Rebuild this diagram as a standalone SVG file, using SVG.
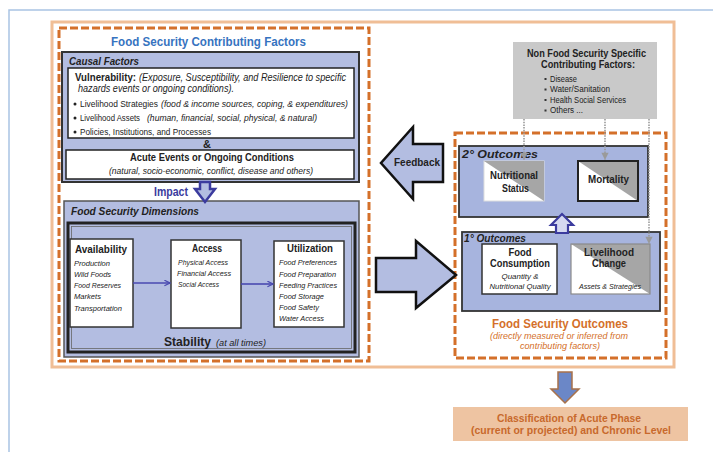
<svg xmlns="http://www.w3.org/2000/svg" width="713" height="452" viewBox="0 0 713 452">
<defs>
<style>
text{font-family:"Liberation Sans","Noto Sans",Arial,sans-serif;fill:#222;}
.b{font-weight:bold;}
.i{font-style:italic;}
.bi{font-weight:bold;font-style:italic;}
.lav{fill:#B3BDE1;stroke:#333;stroke-width:2;}
.lav2{fill:#A7B4DE;stroke:#333;stroke-width:1.8;}
.wbox{fill:#fff;stroke:#222;stroke-width:1.5;}
.dash{fill:none;stroke:#D4702A;stroke-width:3;stroke-dasharray:8 3;}
.tri{fill:#A6A6A6;}
.dot{fill:none;stroke:#9A9A9A;stroke-width:1.6;stroke-dasharray:1.5 1.2;}
.flow{stroke:#4A4AB0;stroke-width:1.6;fill:none;}
.orange{fill:#D4702A;}
</style>
<marker id="ah" viewBox="0 0 10 10" refX="9" refY="5" markerWidth="7" markerHeight="7" orient="auto" markerUnits="userSpaceOnUse">
<path d="M1,1 L9,5 L1,9" fill="none" stroke="#4A4AB0" stroke-width="1.8"/>
</marker>
<marker id="gh" viewBox="0 0 10 10" refX="9" refY="5" markerWidth="9" markerHeight="9" orient="auto" markerUnits="userSpaceOnUse">
<path d="M1,1 L9,5 L1,9 Z" fill="#9A9A9A"/>
</marker>
</defs>
<rect x="0" y="0" width="713" height="452" fill="#fff"/>
<g id="frames">
<path d="M9,452 V10 H713" fill="none" stroke="#A9C3E3" stroke-width="1.5"/>
<rect x="52" y="22" width="622" height="345" fill="#fff" stroke="#F0BE96" stroke-width="3"/>
<rect class="dash" x="59" y="28" width="310" height="333"/>
<rect class="dash" x="455" y="133" width="211" height="225"/>
</g>
<g id="title">
<text class="b" x="111" y="46" font-size="13" textLength="195" lengthAdjust="spacingAndGlyphs" style="fill:#3673C0">Food Security Contributing Factors</text>
</g>
<g id="causal-factors">
<rect class="lav" x="62" y="52" width="297" height="130"/>
<text class="bi" x="69" y="65" font-size="11.5" textLength="70" lengthAdjust="spacingAndGlyphs">Causal Factors</text>
<rect class="wbox" x="68" y="68" width="286" height="70"/>
<text y="81" font-size="10"><tspan class="b" x="75" font-size="10.5" textLength="61" lengthAdjust="spacingAndGlyphs">Vulnerability:</tspan><tspan class="i" x="139" textLength="207" lengthAdjust="spacingAndGlyphs">(Exposure, Susceptibility, and Resilience  to specific</tspan></text>
<text class="i" x="78" y="92" font-size="10" textLength="156" lengthAdjust="spacingAndGlyphs">hazards events or ongoing conditions).</text>
<circle cx="75" cy="104" r="1.5" fill="#222"/>
<text y="107" font-size="9.5"><tspan x="80" textLength="78" lengthAdjust="spacingAndGlyphs">Livelihood Strategies</tspan><tspan class="i" x="161" textLength="187" lengthAdjust="spacingAndGlyphs">(food &amp; income sources, coping, &amp; expenditures)</tspan></text>
<circle cx="75" cy="118" r="1.5" fill="#222"/>
<text x="80" y="121" font-size="9.5" textLength="60" lengthAdjust="spacingAndGlyphs">Livelihood Assets</text>
<text class="i" x="147" y="121" font-size="9.5" textLength="170" lengthAdjust="spacingAndGlyphs">(human, financial, social, physical, &amp; natural)</text>
<circle cx="75" cy="132" r="1.5" fill="#222"/>
<text x="80" y="135" font-size="9.5" textLength="131" lengthAdjust="spacingAndGlyphs">Policies, Institutions, and Processes</text>
<text class="b" x="207" y="148" font-size="11" text-anchor="middle">&amp;</text>
<rect class="wbox" x="66" y="150" width="288" height="29"/>
<text class="b" x="130" y="161" font-size="10.5" textLength="164" lengthAdjust="spacingAndGlyphs">Acute Events or Ongoing Conditions</text>
<text class="i" x="109" y="174" font-size="9.5" textLength="204" lengthAdjust="spacingAndGlyphs">(natural, socio-economic, conflict, disease and others)</text>
</g>
<g id="impact">
<text class="b" x="154" y="196" font-size="12" textLength="34" lengthAdjust="spacingAndGlyphs" style="fill:#3B3B9E">Impact</text>
</g>
<g id="food-security-dimensions">
<rect class="lav" x="64" y="201" width="295" height="156" style="stroke:#555;stroke-width:1.5"/>
<text class="bi" x="71" y="215" font-size="11.5" textLength="128" lengthAdjust="spacingAndGlyphs">Food Security Dimensions</text>
<rect x="68" y="223" width="287" height="129" fill="none" stroke="#222" stroke-width="3"/>
<rect x="71.5" y="226.5" width="280" height="122" fill="none" stroke="#666" stroke-width="0.8"/>
<text y="346"><tspan class="b" x="164" font-size="13" textLength="47" lengthAdjust="spacingAndGlyphs">Stability</tspan><tspan class="i" x="216" font-size="9.5" textLength="50" lengthAdjust="spacingAndGlyphs">(at all times)</tspan></text>
</g>
<g id="availability">
<rect class="wbox" x="70" y="239" width="63" height="88" style="stroke:#333"/>
<text class="b" x="75" y="253" font-size="11" textLength="52" lengthAdjust="spacingAndGlyphs">Availability</text>
<text class="i" x="74" y="266" font-size="8" textLength="36" lengthAdjust="spacingAndGlyphs">Production</text>
<text class="i" x="74" y="277" font-size="8" textLength="37" lengthAdjust="spacingAndGlyphs">Wild Foods</text>
<text class="i" x="74" y="288" font-size="8" textLength="47" lengthAdjust="spacingAndGlyphs">Food Reserves</text>
<text class="i" x="74" y="299" font-size="8" textLength="27" lengthAdjust="spacingAndGlyphs">Markets</text>
<text class="i" x="74" y="310.5" font-size="8" textLength="48" lengthAdjust="spacingAndGlyphs">Transportation</text>
</g>
<g id="access">
<rect class="wbox" x="171" y="240" width="70" height="88" style="stroke:#333"/>
<text class="b" x="192" y="252" font-size="11" textLength="30" lengthAdjust="spacingAndGlyphs">Access</text>
<text class="i" x="178" y="265" font-size="8" textLength="50" lengthAdjust="spacingAndGlyphs">Physical Access</text>
<text class="i" x="177" y="276" font-size="8" textLength="54" lengthAdjust="spacingAndGlyphs">Financial Access</text>
<text class="i" x="178" y="287" font-size="8" textLength="41" lengthAdjust="spacingAndGlyphs">Social Access</text>
</g>
<g id="utilization">
<rect class="wbox" x="274" y="241" width="70" height="86" style="stroke:#333"/>
<text class="b" x="287" y="252" font-size="11" textLength="46" lengthAdjust="spacingAndGlyphs">Utilization</text>
<text class="i" x="279" y="265" font-size="8" textLength="58" lengthAdjust="spacingAndGlyphs">Food Preferences</text>
<text class="i" x="279" y="276.5" font-size="8" textLength="57" lengthAdjust="spacingAndGlyphs">Food Preparation</text>
<text class="i" x="279" y="287.5" font-size="8" textLength="58" lengthAdjust="spacingAndGlyphs">Feeding Practices</text>
<text class="i" x="279" y="298.5" font-size="8" textLength="45" lengthAdjust="spacingAndGlyphs">Food Storage</text>
<text class="i" x="279" y="309.5" font-size="8" textLength="40" lengthAdjust="spacingAndGlyphs">Food Safety</text>
<text class="i" x="279" y="320.5" font-size="8" textLength="45" lengthAdjust="spacingAndGlyphs">Water Access</text>
</g>
<g id="non-fs-factors">
<rect x="513" y="42" width="144" height="77" fill="#C9C9C9"/>
<text class="b" x="527" y="57" font-size="10" textLength="119" lengthAdjust="spacingAndGlyphs">Non Food Security Specific</text>
<text class="b" x="541" y="68" font-size="10" textLength="94" lengthAdjust="spacingAndGlyphs">Contributing Factors:</text>
<rect x="544.5" y="78" width="2" height="2" fill="#333"/>
<text x="550" y="81.5" font-size="8.5" textLength="27" lengthAdjust="spacingAndGlyphs">Disease</text>
<rect x="544.5" y="88.5" width="2" height="2" fill="#333"/>
<text x="550" y="92" font-size="8.5" textLength="60" lengthAdjust="spacingAndGlyphs">Water/Sanitation</text>
<rect x="544.5" y="99" width="2" height="2" fill="#333"/>
<text x="550" y="102.5" font-size="8.5" textLength="76" lengthAdjust="spacingAndGlyphs">Health Social Services</text>
<rect x="544.5" y="109.5" width="2" height="2" fill="#333"/>
<text x="550" y="113" font-size="8.5" textLength="33" lengthAdjust="spacingAndGlyphs">Others ...</text>
</g>
<g id="secondary-outcomes">
<rect class="lav2" x="459" y="146" width="189" height="71"/>
<text class="bi" x="462" y="158" font-size="11" textLength="76" lengthAdjust="spacingAndGlyphs">2° Outcomes</text>
</g>
<g id="nutritional-status">
<rect x="484" y="161" width="60" height="40" fill="#fff" stroke="#ddd" stroke-width="1"/>
<path class="tri" d="M484,161 H544 V201 Z"/>
<text class="b" x="490" y="179" font-size="10" textLength="48" lengthAdjust="spacingAndGlyphs">Nutritional</text>
<text class="b" x="502" y="192" font-size="10" textLength="27" lengthAdjust="spacingAndGlyphs">Status</text>
</g>
<g id="mortality">
<rect x="578" y="161" width="60" height="40" fill="#fff"/>
<path class="tri" d="M578,161 H638 V201 Z"/>
<rect x="578" y="161" width="60" height="40" fill="none" stroke="#222" stroke-width="2"/>
<text class="b" x="588" y="183" font-size="10" textLength="41" lengthAdjust="spacingAndGlyphs">Mortality</text>
</g>
<g id="primary-outcomes">
<rect class="lav2" x="462" y="232" width="198" height="79"/>
<text class="bi" x="464" y="242" font-size="11" textLength="62" lengthAdjust="spacingAndGlyphs">1° Outcomes</text>
</g>
<g id="food-consumption">
<rect class="wbox" x="482" y="244" width="75" height="50" style="stroke:#333"/>
<text class="b" x="520" y="256" font-size="10" text-anchor="middle" textLength="23" lengthAdjust="spacingAndGlyphs">Food</text>
<text class="b" x="520" y="267" font-size="10" text-anchor="middle" textLength="60" lengthAdjust="spacingAndGlyphs">Consumption</text>
<text class="i" x="520" y="278.5" font-size="8" text-anchor="middle" textLength="37" lengthAdjust="spacingAndGlyphs">Quantity &amp;</text>
<text class="i" x="520" y="288.5" font-size="8" text-anchor="middle" textLength="61" lengthAdjust="spacingAndGlyphs">Nutritional Quality</text>
</g>
<g id="livelihood-change">
<rect x="571" y="244" width="79" height="50" fill="#fff"/>
<path class="tri" d="M571,244 H650 V294 Z"/>
<rect x="571" y="244" width="79" height="50" fill="none" stroke="#8a8a8a" stroke-width="1.2"/>
<text class="b" x="609" y="256" font-size="10" text-anchor="middle" textLength="50" lengthAdjust="spacingAndGlyphs">Livelihood</text>
<text class="b" x="609" y="267" font-size="10" text-anchor="middle" textLength="34" lengthAdjust="spacingAndGlyphs">Change</text>
<text class="i" x="610" y="288.5" font-size="8" text-anchor="middle" textLength="62" lengthAdjust="spacingAndGlyphs">Assets &amp; Strategies</text>
</g>
<g id="fs-outcomes-label">
<text class="b orange" x="560" y="328" font-size="13" text-anchor="middle" textLength="136" lengthAdjust="spacingAndGlyphs">Food Security Outcomes</text>
<text class="i orange" x="559" y="338.5" font-size="9.5" text-anchor="middle" textLength="138" lengthAdjust="spacingAndGlyphs">(directly measured or inferred from</text>
<text class="i orange" x="560" y="349" font-size="9.5" text-anchor="middle" textLength="80" lengthAdjust="spacingAndGlyphs">contributing factors)</text>
</g>
<g id="classification">
<rect x="453" y="407" width="235" height="34" fill="#EEC4A2"/>
<text class="b" x="569" y="422" font-size="11" text-anchor="middle" textLength="144" lengthAdjust="spacingAndGlyphs" style="fill:#C8692C">Classification of Acute Phase</text>
<text class="b" x="571" y="434" font-size="11" text-anchor="middle" textLength="200" lengthAdjust="spacingAndGlyphs" style="fill:#C8692C">(current or projected) and Chronic Level</text>
</g>
<g id="connectors">
<polygon points="200,182 210,182 210,189 215,189 205,202 195,189 200,189" fill="#B3BDE1" stroke="#3B3B9E" stroke-width="2.5" stroke-linejoin="miter"/>
<line class="flow" x1="133" y1="283" x2="170" y2="283" marker-end="url(#ah)"/>
<line class="flow" x1="241" y1="284" x2="273" y2="284" marker-end="url(#ah)"/>
<polygon points="376,258 416,258 416,241 456,275 416,308 416,292 376,292" fill="#B3BDE1" stroke="#111" stroke-width="2.5"/>
<polygon points="443,144 413,144 413,127 381,163 413,199 413,182 443,182" fill="#B3BDE1" stroke="#111" stroke-width="2.5"/>
<text class="b" x="394" y="166" font-size="11" textLength="46" lengthAdjust="spacingAndGlyphs">Feedback</text>
<polygon points="556,233 568,233 568,225 573,225 562,214 551,225 556,225" fill="#D4D8F0" stroke="#3B3B9E" stroke-width="2.2"/>
<line class="dot" x1="524" y1="119" x2="524" y2="160" marker-end="url(#gh)"/>
<line class="dot" x1="605" y1="119" x2="605" y2="160" marker-end="url(#gh)"/>
<line class="dot" x1="649" y1="119" x2="649" y2="244" marker-end="url(#gh)"/>
<polygon points="558,372 572,372 572,389 579,389 565,403 551,389 558,389" fill="#6B87C7" stroke="#A9724A" stroke-width="1.5"/>
</g>
</svg>
